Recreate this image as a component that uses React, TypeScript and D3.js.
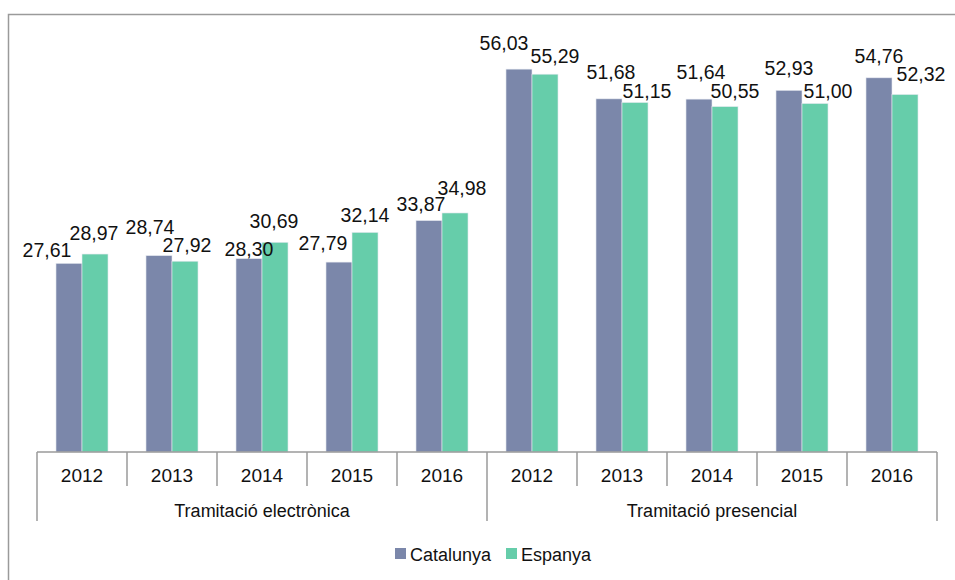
import React from "react";
import * as d3 from "d3";

const years = ["2012", "2013", "2014", "2015", "2016"];
const groups = ["Tramitació electrònica", "Tramitació presencial"];
const seriesNames = ["Catalunya", "Espanya"];
const catalunya = [27.61, 28.74, 28.3, 27.79, 33.87, 56.03, 51.68, 51.64, 52.93, 54.76];
const espanya = [28.97, 27.92, 30.69, 32.14, 34.98, 55.29, 51.15, 50.55, 51.0, 52.32];

// label nudges (dx, dy relative to bar top centre)
const catLabelDx = [-22, -9, 0, -16, -8, -15, 2, 2, 0, 0];
const catLabelDy = [-6, -22, -3, -12, -10, -19, -20, -20, -15, -15];
const espLabelDx = [-1, 2, -1, 0, 7, 10, 12, 10, 13, 16];
const espLabelDy = [-14, -9, -14, -10, -18, -11, -4, -9, -6, -13];

const COLORS = ["#7b87aa", "#66cdaa"];
const FONT = "'Liberation Sans', Arial, sans-serif";

const fmt = (v: number) => v.toFixed(2).replace(".", ",");

export default function App() {
  const W = 955, H = 580;
  const left = 37, right = 937, base = 452;
  const cats = groups.flatMap((g) => years.map((y) => `${g}|${y}`));
  const x = d3.scaleBand<string>().domain(cats).range([left, right]).paddingInner(0.422).paddingOuter(0.211);
  const step = x.step();
  const y = d3.scaleLinear().domain([0, 60]).range([base, 42]);
  const bw = x.bandwidth() / 2;
  const gray = "#9a9a9a";

  const series = [catalunya, espanya];
  const dxs = [catLabelDx, espLabelDx];
  const dys = [catLabelDy, espLabelDy];

  return (
    <svg width={W} height={H} style={{ position: "absolute", left: 0, top: 0, background: "#fff" }} fontFamily={FONT}>
      <rect x={0} y={0} width={W} height={H} fill="#fff" />
      <path d={`M8.5,${H} V14.5 H${W}`} fill="none" stroke={gray} strokeWidth={1.5} />
      {series.map((vals, si) =>
        vals.map((v, i) => {
          const bx = (x(cats[i]) as number) + si * bw;
          return (
            <rect key={`b${si}-${i}`} x={bx} y={y(v)} width={bw} height={base - y(v)} fill={COLORS[si]} stroke="#e6e9f0" strokeWidth={0.6} />
          );
        })
      )}
      {series.map((vals, si) =>
        vals.map((v, i) => {
          const cx = (x(cats[i]) as number) + si * bw + bw / 2;
          return (
            <text key={`l${si}-${i}`} x={cx + dxs[si][i]} y={y(v) + dys[si][i]} textAnchor="middle" fontSize={19.5} fill="#111">
              {fmt(v)}
            </text>
          );
        })
      )}
      {/* axis */}
      <line x1={left} x2={right} y1={base} y2={base} stroke={gray} strokeWidth={1.5} />
      {d3.range(cats.length + 1).map((k) => {
        const tx = left + k * step;
        const isGroup = k % years.length === 0;
        return <line key={`t${k}`} x1={tx} x2={tx} y1={base} y2={isGroup ? 521 : 486} stroke={gray} strokeWidth={1.5} />;
      })}
      {cats.map((c, i) => (
        <text key={`y${i}`} x={(x(c) as number) + x.bandwidth() / 2} y={482} textAnchor="middle" fontSize={19} fill="#111">
          {c.split("|")[1]}
        </text>
      ))}
      {groups.map((g, gi) => (
        <text key={`g${gi}`} x={left + (gi + 0.5) * years.length * step} y={517} textAnchor="middle" fontSize={18} fill="#111">
          {g}
        </text>
      ))}
      {/* legend */}
      {seriesNames.map((s, si) => {
        const lx = si === 0 ? 395 : 506;
        return (
          <g key={`lg${si}`}>
            <rect x={lx} y={548} width={11} height={11} fill={COLORS[si]} />
            <text x={lx + 15} y={561} fontSize={18} fill="#111">
              {s}
            </text>
          </g>
        );
      })}
    </svg>
  );
}
